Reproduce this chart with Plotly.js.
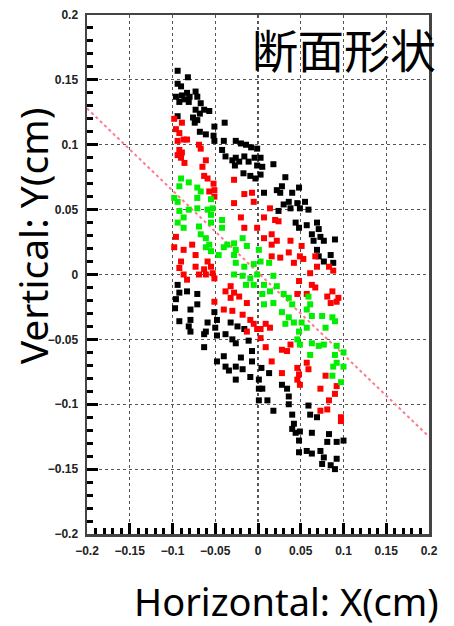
<!DOCTYPE html>
<html>
<head>
<meta charset="utf-8">
<script src="https://cdn.plot.ly/plotly-3.0.1.min.js"></script>
<style>html,body{margin:0;padding:0;background:#fff;}#chart{width:454px;height:626px;}</style>
</head>
<body>
<div id="chart"></div>
<script>
var blackX = [-0.094,-0.082,-0.094,-0.090,-0.083,-0.073,-0.096,-0.089,-0.080,-0.086,-0.071,-0.092,-0.081,-0.067,-0.073,-0.063,-0.057,-0.068,-0.076,-0.071,-0.094,-0.039,-0.074,-0.051,-0.068,-0.061,-0.052,-0.051,-0.040,-0.026,-0.020,-0.014,-0.008,-0.001,-0.042,-0.038,-0.026,-0.016,-0.030,-0.022,-0.011,-0.004,-0.001,-0.017,-0.009,-0.003,-0.027,0.003,0.005,0.018,0.003,0.032,0.028,0.022,0.048,0.040,0.007,0.026,0.024,0.030,0.036,0.046,0.055,0.049,0.059,0.038,0.044,0.048,0.057,0.069,0.071,0.063,0.073,0.077,0.090,0.065,0.069,0.071,0.085,0.088,0.077,
-0.094,-0.083,-0.092,-0.071,-0.096,-0.097,-0.071,-0.079,-0.051,-0.079,-0.092,-0.081,-0.079,-0.059,-0.048,-0.050,-0.061,-0.032,-0.024,-0.016,-0.063,-0.063,-0.048,-0.038,-0.030,-0.026,-0.011,-0.007,-0.040,-0.048,-0.020,-0.007,-0.038,-0.034,-0.026,-0.018,-0.026,-0.009,0.001,0.001,0.001,0.004,0.013,0.005,0.011,0.028,0.034,0.036,0.036,0.018,0.040,0.059,0.061,0.069,0.042,0.040,0.044,0.049,0.063,0.083,0.081,0.092,0.100,0.057,0.063,0.073,0.077,0.092,0.075,0.085,0.090,0.048,0.048];
var blackY = [0.157,0.152,0.147,0.145,0.140,0.141,0.137,0.138,0.137,0.135,0.137,0.133,0.133,0.132,0.127,0.127,0.126,0.124,0.121,0.119,0.122,0.117,0.117,0.114,0.110,0.108,0.107,0.103,0.103,0.103,0.101,0.100,0.098,0.097,0.096,0.091,0.090,0.091,0.088,0.087,0.087,0.090,0.084,0.078,0.076,0.074,0.084,0.090,0.083,0.085,0.077,0.075,0.068,0.065,0.067,0.063,0.063,0.063,0.049,0.054,0.056,0.055,0.056,0.051,0.050,0.051,0.040,0.036,0.038,0.040,0.035,0.031,0.029,0.026,0.027,0.026,0.019,0.014,0.015,0.009,0.010,
-0.008,-0.013,-0.014,-0.015,-0.019,-0.026,-0.023,-0.027,-0.029,-0.035,-0.036,-0.040,-0.044,-0.037,-0.035,-0.041,-0.044,-0.037,-0.040,-0.042,-0.046,-0.056,-0.047,-0.046,-0.050,-0.053,-0.051,-0.059,-0.063,-0.067,-0.064,-0.067,-0.071,-0.074,-0.071,-0.073,-0.081,-0.079,-0.081,-0.097,-0.088,-0.072,-0.076,-0.088,-0.097,-0.085,-0.088,-0.094,-0.100,-0.105,-0.108,-0.101,-0.108,-0.110,-0.115,-0.119,-0.122,-0.121,-0.122,-0.123,-0.129,-0.129,-0.128,-0.136,-0.138,-0.136,-0.141,-0.142,-0.146,-0.147,-0.150,-0.137,-0.128];

var redX = [-0.098,-0.089,-0.096,-0.092,-0.087,-0.083,-0.094,-0.069,-0.067,-0.092,-0.094,-0.089,-0.090,-0.086,-0.061,-0.065,-0.063,-0.059,-0.052,-0.051,-0.028,-0.057,-0.051,-0.016,-0.007,-0.096,-0.098,-0.077,-0.087,-0.073,-0.090,-0.092,-0.059,-0.055,-0.073,-0.063,-0.069,-0.061,-0.053,-0.087,-0.083,-0.051,-0.028,-0.020,-0.016,-0.005,-0.032,-0.038,-0.028,-0.032,-0.022,-0.013,-0.040,-0.030,-0.018,-0.009,-0.005,-0.051,-0.013,-0.001,0.014,0.007,0.020,0.024,0.007,0.016,0.022,0.038,0.016,0.051,0.036,0.049,0.016,0.026,0.067,0.042,0.053,0.069,0.083,0.088,0.061,0.048,0.063,0.067,0.087,0.081,0.094,0.092,0.057,0.046,0.085,0.009,0.014,0.003,-0.001,0.003,0.009,0.028,0.038,0.034,0.016,0.028,0.046,0.057,0.059,0.048,0.046,0.049,0.079,0.073,0.092,0.090,0.083,0.073,0.081,0.097,0.097];
var redY = [0.120,0.117,0.112,0.109,0.104,0.104,0.103,0.100,0.097,0.096,0.092,0.094,0.090,0.086,0.088,0.083,0.076,0.074,0.070,0.065,0.073,0.064,0.060,0.062,0.063,0.029,0.021,0.023,0.019,0.015,0.010,0.005,0.010,0.006,0.006,0.004,0.000,0.000,0.001,0.000,-0.004,-0.003,0.055,0.044,0.036,0.056,-0.009,-0.013,-0.014,-0.018,-0.017,-0.022,-0.027,-0.028,-0.031,-0.035,-0.038,-0.021,-0.044,-0.042,0.051,0.044,0.042,0.041,0.028,0.031,0.026,0.026,0.023,0.022,0.017,0.014,0.014,0.013,0.014,0.009,0.012,0.006,0.006,0.003,0.001,-0.005,-0.008,-0.010,-0.013,-0.017,-0.018,-0.021,-0.015,-0.015,-0.022,-0.038,-0.041,-0.042,0.036,-0.049,-0.056,-0.058,-0.054,-0.059,-0.067,-0.076,-0.072,-0.068,-0.073,-0.077,-0.081,-0.085,-0.078,-0.088,-0.086,-0.092,-0.097,-0.105,-0.104,-0.110,-0.113];

var greenX = [-0.090,-0.092,-0.081,-0.071,-0.067,-0.098,-0.094,-0.071,-0.055,-0.092,-0.081,-0.071,-0.059,-0.053,-0.055,-0.087,-0.094,-0.087,-0.069,-0.055,-0.042,-0.042,-0.067,-0.061,-0.057,-0.061,-0.055,-0.028,-0.026,-0.018,-0.013,-0.040,-0.036,-0.046,-0.028,-0.026,-0.016,-0.005,-0.028,-0.018,-0.009,-0.001,-0.014,-0.005,0.001,0.003,0.013,0.018,0.007,0.014,0.005,0.022,0.030,0.036,0.040,0.018,0.007,0.059,0.061,0.057,0.028,0.036,0.042,0.032,0.063,0.075,0.087,0.051,0.057,0.079,0.090,0.048,0.046,0.049,0.063,0.071,0.077,0.092,0.061,0.090,0.100,0.092,0.100,0.088,0.087,0.097];
var greenY = [0.074,0.068,0.071,0.067,0.064,0.059,0.056,0.059,0.058,0.049,0.050,0.051,0.050,0.051,0.046,0.044,0.040,0.036,0.037,0.040,0.042,0.036,0.031,0.028,0.023,0.021,0.018,0.024,0.019,0.028,0.022,0.021,0.023,0.015,0.015,0.009,0.006,0.008,0.000,-0.001,-0.003,0.000,-0.008,-0.008,0.019,0.010,0.009,-0.001,-0.008,-0.013,-0.015,-0.009,-0.015,-0.018,-0.023,-0.022,-0.023,-0.017,-0.023,-0.027,-0.029,-0.033,-0.037,-0.038,-0.032,-0.032,-0.033,-0.037,-0.041,-0.041,-0.036,-0.044,-0.050,-0.054,-0.053,-0.055,-0.054,-0.055,-0.062,-0.062,-0.060,-0.068,-0.071,-0.071,-0.078,-0.083];

var lineX = [-0.2, 0.2];
var lineY = [0.128, -0.125];

var tickVals = [-0.2,-0.15,-0.1,-0.05,0,0.05,0.1,0.15,0.2];
var tickText = ['-0.2','-0.15','-0.1','-0.05','0','0.05','0.1','0.15','0.2'];

var mk = function(c){ return {symbol:'square', size:6, color:c, line:{width:0}}; };
var traces = [
  {x:lineX, y:lineY, mode:'lines', line:{color:'#ff7a8c', width:2, dash:'dot'}, hoverinfo:'skip'},
  {x:blackX, y:blackY, mode:'markers', marker:mk('#000000')},
  {x:redX, y:redY, mode:'markers', marker:mk('#ff0000')},
  {x:greenX, y:greenY, mode:'markers', marker:mk('#00ee00')}
];

var axisBase = {
  range:[-0.2,0.2], autorange:false,
  tickmode:'linear', tick0:0, dtick:0.05,
  tickvals:tickVals, ticktext:tickText,
  ticks:'inside', ticklen:11, tickwidth:3, tickcolor:'#000000',
  minor:{ticks:'inside', dtick:0.01, ticklen:6, tickwidth:3, tickcolor:'#000000', showgrid:false},
  showgrid:true, gridcolor:'#555', griddash:'dot', gridwidth:1.2,
  zeroline:false,
  showline:true, linecolor:'#444', linewidth:2.5, mirror:true,
  tickfont:{family:'Liberation Sans, Arial, sans-serif', size:12, color:'#222', weight:'bold'},
  ticklabelstandoff:4,
  fixedrange:true
};

var layout = {
  width:454, height:626,
  margin:{l:87, r:25, t:15, b:92},
  paper_bgcolor:'#ffffff', plot_bgcolor:'#ffffff',
  showlegend:false,
  xaxis: Object.assign({}, axisBase),
  yaxis: Object.assign({}, axisBase),
  annotations:[
    {text:'断面形状', xref:'paper', yref:'paper', x:1.025, y:0.936, xanchor:'right', yanchor:'middle', showarrow:false,
     font:{family:'Noto Sans CJK JP, Noto Sans CJK SC, sans-serif', size:46, color:'#000'}},
    {text:'Vertical: Y(cm)', xref:'paper', yref:'paper', x:-0.16, y:0.574, xanchor:'center', yanchor:'middle', textangle:-90, showarrow:false,
     font:{family:'Noto Sans, Open Sans, sans-serif', size:39, color:'#000'}},
    {text:'Horizontal: X(cm)', xref:'paper', yref:'paper', x:1.035, y:-0.13, xanchor:'right', yanchor:'middle', showarrow:false,
     font:{family:'Noto Sans, Open Sans, sans-serif', size:38, color:'#000'}}
  ]
};

Plotly.newPlot('chart', traces, layout, {staticPlot:true, displayModeBar:false});
</script>
</body>
</html>
